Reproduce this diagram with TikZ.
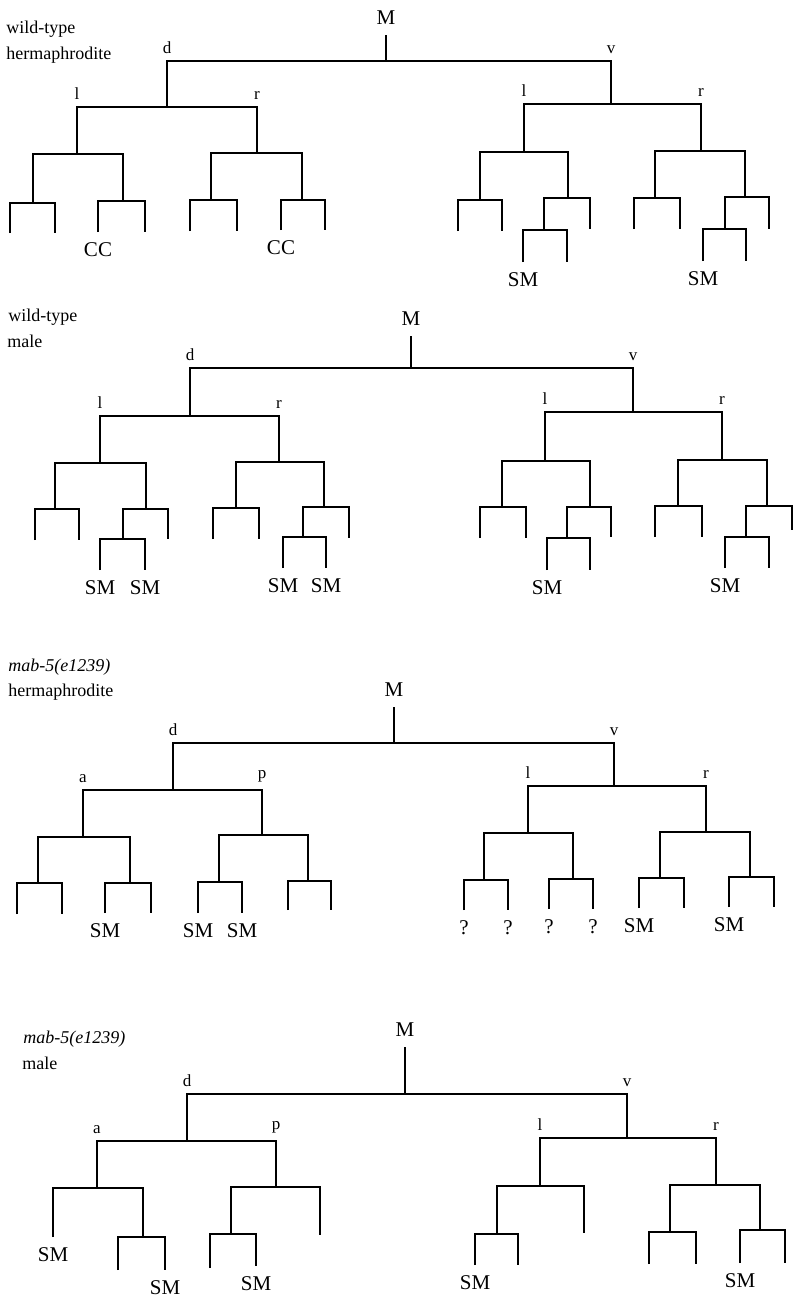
\documentclass[tikz,border=0pt]{standalone}
\usepackage{fontspec}
\setmainfont{Liberation Serif}
\usepackage{tikz}
\usetikzlibrary{positioning}
\tikzset{
    cell/.style={line width=1.4pt,draw=black},
    founder/.style={above=4pt,inner sep=1pt,font=\fontsize{10.5}{12}\selectfont},
    branch/.style={above=2.5pt,inner sep=1pt,font=\fontsize{8.5}{10}\selectfont},
    fate/.style={below=4pt,inner sep=1pt,font=\fontsize{10.5}{12}\selectfont},
    strain/.style={anchor=base west,inner sep=0pt,font=\fontsize{9}{11}\selectfont}
}

\begin{document}
\begin{tikzpicture}[x=0.5pt,y=-0.5pt]
  \useasboundingbox (0,0) rectangle (800,1296);

  % wild-type hermaphrodite
  \foreach \n/\x/\y in {top/386/35, M/386/61, d/167/107, v/611/104,
    dl/77/154, dr/257/153, vl/524/152, vr/701/151,
    dll/33/203, dlr/123/201, drl/211/200, drr/302/200,
    vll/480/200, vlr/568/198, vrl/655/198, vrr/745/197,
    vlrl/544/230, vrrl/725/229,
    e1/10/233, e2/55/233, e3/98/232, e4/145/232, e5/190/231, e6/237/231,
    e7/281/230, e8/325/230, e9/458/231, e10/502/231, e11/523/262,
    e12/567/262, e13/590/229, e14/634/229, e15/680/229, e16/703/261,
    e17/746/261, e18/769/229}
    {\coordinate (A-\n) at (\x,\y);}
  \draw[cell] (A-top) -- (A-M);
  \foreach \p/\l/\r in {M/d/v, d/dl/dr, v/vl/vr, dl/dll/dlr, dr/drl/drr,
    vl/vll/vlr, vr/vrl/vrr, dll/e1/e2, dlr/e3/e4, drl/e5/e6, drr/e7/e8,
    vll/e9/e10, vlr/vlrl/e13, vlrl/e11/e12, vrl/e14/e15, vrr/vrrl/e18,
    vrrl/e16/e17}
    {\draw[cell] (A-\l) |- (A-\p) -| (A-\r);}
  \node[strain] (A-s1) at (6,33) {wild-type};
  \node[strain] (A-s2) at (6,59) {hermaphrodite};
  \node[founder] (A-m) at (A-top) {M};
  \node[branch] (A-bd) at (A-d |- A-M) {d};
  \node[branch] (A-bv) at (A-v |- A-M) {v};
  \node[branch] (A-b1) at (A-dl |- A-d) {l};
  \node[branch] (A-b2) at (A-dr |- A-d) {r};
  \node[branch] (A-b3) at (A-vl |- A-v) {l};
  \node[branch] (A-b4) at (A-vr |- A-v) {r};
  \node[fate] (A-f1) at (A-e3) {CC};
  \node[fate] (A-f2) at (A-e7) {CC};
  \node[fate] (A-f3) at (A-e11) {SM};
  \node[fate] (A-f4) at (A-e16) {SM};

  % wild-type male
  \foreach \n/\x/\y in {top/411/336, M/411/368, d/190/416, v/633/412,
    dl/100/463, dr/279/462, vl/545/461, vr/722/460,
    dll/55/509, dlr/146/509, drl/236/508, drr/324/507,
    vll/502/507, vlr/590/507, vrl/678/506, vrr/767/506,
    dlrl/123/539, drrl/303/537, vlrl/567/538, vrrl/746/537,
    e1/35/540, e2/79/540, e3/168/539, e4/100/570, e5/145/570,
    e6/213/539, e7/259/539, e8/349/538, e9/283/568, e10/326/568,
    e11/480/538, e12/526/538, e13/611/537, e14/547/570, e15/590/570,
    e16/655/537, e17/702/537, e18/792/530, e19/725/568, e20/769/568}
    {\coordinate (B-\n) at (\x,\y);}
  \draw[cell] (B-top) -- (B-M);
  \foreach \p/\l/\r in {M/d/v, d/dl/dr, v/vl/vr, dl/dll/dlr, dr/drl/drr,
    vl/vll/vlr, vr/vrl/vrr, dll/e1/e2, dlr/dlrl/e3, dlrl/e4/e5,
    drl/e6/e7, drr/drrl/e8, drrl/e9/e10, vll/e11/e12, vlr/vlrl/e13,
    vlrl/e14/e15, vrl/e16/e17, vrr/vrrl/e18, vrrl/e19/e20}
    {\draw[cell] (B-\l) |- (B-\p) -| (B-\r);}
  \node[strain] (B-s1) at (8,321) {wild-type};
  \node[strain] (B-s2) at (7,347) {male};
  \node[founder] (B-m) at (B-top) {M};
  \node[branch] (B-bd) at (B-d |- B-M) {d};
  \node[branch] (B-bv) at (B-v |- B-M) {v};
  \node[branch] (B-b1) at (B-dl |- B-d) {l};
  \node[branch] (B-b2) at (B-dr |- B-d) {r};
  \node[branch] (B-b3) at (B-vl |- B-v) {l};
  \node[branch] (B-b4) at (B-vr |- B-v) {r};
  \node[fate] (B-f1) at (B-e4) {SM};
  \node[fate] (B-f2) at (B-e5) {SM};
  \node[fate] (B-f3) at (B-e9) {SM};
  \node[fate] (B-f4) at (B-e10) {SM};
  \node[fate] (B-f5) at (B-e14) {SM};
  \node[fate] (B-f6) at (B-e19) {SM};

  % mab-5 hermaphrodite
  \foreach \n/\x/\y in {top/394/707, M/394/743, d/173/790, v/614/786,
    da/83/837, dp/262/835, vl/528/833, vr/706/832,
    daa/38/883, dap/130/883, dpa/219/882, dpp/308/881,
    vll/484/880, vlr/573/879, vrl/660/878, vrr/750/877,
    e1/17/914, e2/62/914, e3/105/913, e4/151/913, e5/198/913, e6/242/913,
    e7/288/910, e8/331/910, e9/464/910, e10/508/910, e11/549/909,
    e12/593/909, e13/639/908, e14/684/908, e15/729/907, e16/774/907}
    {\coordinate (C-\n) at (\x,\y);}
  \draw[cell] (C-top) -- (C-M);
  \foreach \p/\l/\r in {M/d/v, d/da/dp, v/vl/vr, da/daa/dap, dp/dpa/dpp,
    vl/vll/vlr, vr/vrl/vrr, daa/e1/e2, dap/e3/e4, dpa/e5/e6, dpp/e7/e8,
    vll/e9/e10, vlr/e11/e12, vrl/e13/e14, vrr/e15/e16}
    {\draw[cell] (C-\l) |- (C-\p) -| (C-\r);}
  \node[strain] (C-s1) at (8,671) {\itshape mab-5(e1239)};
  \node[strain] (C-s2) at (8,696) {hermaphrodite};
  \node[founder] (C-m) at (C-top) {M};
  \node[branch] (C-bd) at (C-d |- C-M) {d};
  \node[branch] (C-bv) at (C-v |- C-M) {v};
  \node[branch] (C-b1) at (C-da |- C-d) {a};
  \node[branch] (C-b2) at (C-dp |- C-d) {p};
  \node[branch] (C-b3) at (C-vl |- C-v) {l};
  \node[branch] (C-b4) at (C-vr |- C-v) {r};
  \node[fate] (C-f1) at (C-e3) {SM};
  \node[fate] (C-f2) at (C-e5) {SM};
  \node[fate] (C-f3) at (C-e6) {SM};
  \node[fate] (C-f4) at (C-e9) {?};
  \node[fate] (C-f5) at (C-e10) {?};
  \node[fate] (C-f6) at (C-e11) {?};
  \node[fate] (C-f7) at (C-e12) {?};
  \node[fate] (C-f8) at (C-e13) {SM};
  \node[fate] (C-f9) at (C-e15) {SM};

  % mab-5 male
  \foreach \n/\x/\y in {top/405/1047, M/405/1094, d/187/1141, v/627/1138,
    da/97/1188, dp/276/1187, vl/540/1186, vr/716/1185,
    dap/143/1237, dpa/231/1234, vll/497/1234, vrl/670/1232, vrr/760/1230,
    e1/53/1237, e2/118/1270, e3/165/1270, e4/210/1268, e5/256/1266,
    e6/320/1235, e7/475/1265, e8/518/1265, e9/584/1233, e10/649/1264,
    e11/696/1264, e12/740/1263, e13/785/1263}
    {\coordinate (D-\n) at (\x,\y);}
  \draw[cell] (D-top) -- (D-M);
  \foreach \p/\l/\r in {M/d/v, d/da/dp, v/vl/vr, da/e1/dap, dap/e2/e3,
    dp/dpa/e6, dpa/e4/e5, vl/vll/e9, vll/e7/e8, vr/vrl/vrr,
    vrl/e10/e11, vrr/e12/e13}
    {\draw[cell] (D-\l) |- (D-\p) -| (D-\r);}
  \node[strain] (D-s1) at (23,1043) {\itshape mab-5(e1239)};
  \node[strain] (D-s2) at (22,1069) {male};
  \node[founder] (D-m) at (D-top) {M};
  \node[branch] (D-bd) at (D-d |- D-M) {d};
  \node[branch] (D-bv) at (D-v |- D-M) {v};
  \node[branch] (D-b1) at (D-da |- D-d) {a};
  \node[branch] (D-b2) at (D-dp |- D-d) {p};
  \node[branch] (D-b3) at (D-vl |- D-v) {l};
  \node[branch] (D-b4) at (D-vr |- D-v) {r};
  \node[fate] (D-f1) at (D-e1) {SM};
  \node[fate] (D-f2) at (D-e3) {SM};
  \node[fate] (D-f3) at (D-e5) {SM};
  \node[fate] (D-f4) at (D-e7) {SM};
  \node[fate] (D-f5) at (D-e12) {SM};
\end{tikzpicture}
\end{document}
